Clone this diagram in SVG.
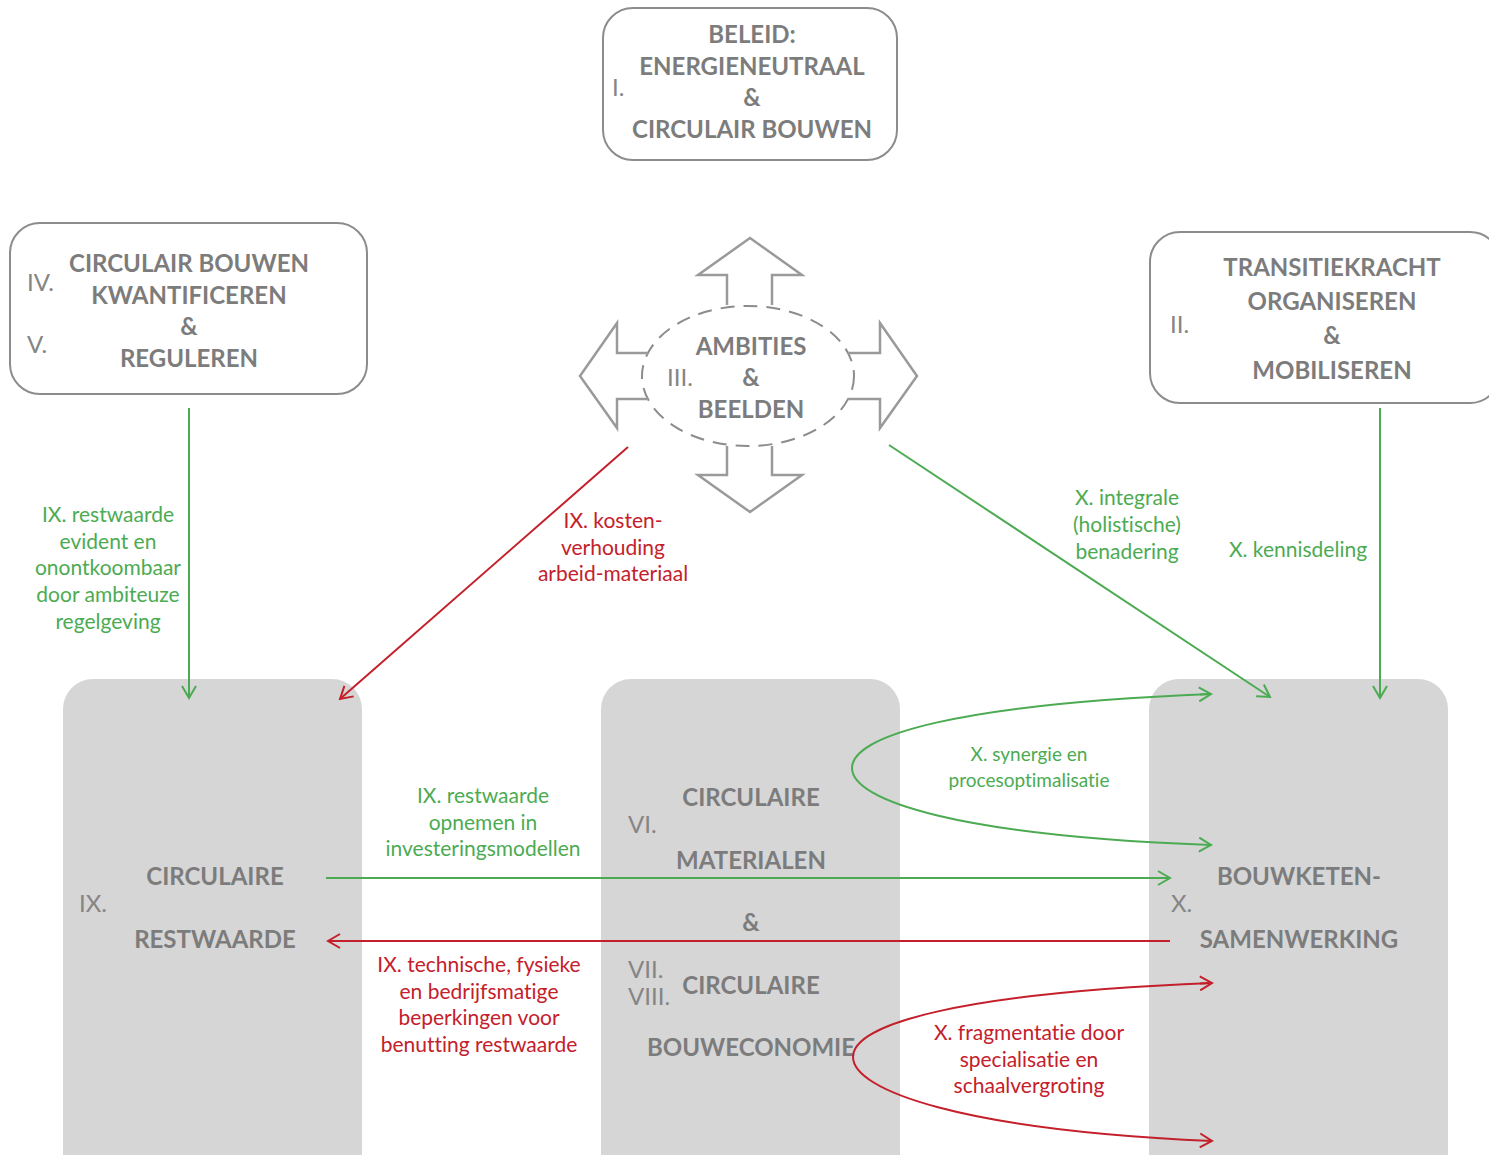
<svg xmlns="http://www.w3.org/2000/svg" width="1489" height="1155" viewBox="0 0 1489 1155">
<defs>
<style>
text{font-variant-ligatures:none}
.box{fill:#fff;stroke:#8c8c8c;stroke-width:2}
.gbox{fill:#d6d6d6;stroke:none}
.arr{fill:none;stroke:#9a9a9a;stroke-width:2.5;stroke-linejoin:miter}
.ell{fill:none;stroke:#8c8c8c;stroke-width:2;stroke-dasharray:14 9}
.h{font-family:Lato,"Open Sans",sans-serif;font-weight:700;font-size:24px;fill:#7c7c7c;text-anchor:middle}
.n{font-family:Lato,"Open Sans",sans-serif;font-weight:400;font-size:24px;fill:#858585}
.g{font-family:Lato,"Open Sans",sans-serif;font-size:21px;fill:#4cab52;text-anchor:middle}
.r{font-family:Lato,"Open Sans",sans-serif;font-size:21px;fill:#c4202b;text-anchor:middle}
.lg{fill:none;stroke:#4cab52;stroke-width:2}
.lr{fill:none;stroke:#c4202b;stroke-width:2}
</style>
<marker id="ag" markerUnits="userSpaceOnUse" markerWidth="16" markerHeight="16" viewBox="0 0 16 16" refX="14" refY="8" orient="auto">
<path d="M2,1 L14,8 L2,15" fill="none" stroke="#4cab52" stroke-width="2"/>
</marker>
<marker id="ar" markerUnits="userSpaceOnUse" markerWidth="16" markerHeight="16" viewBox="0 0 16 16" refX="14" refY="8" orient="auto">
<path d="M2,1 L14,8 L2,15" fill="none" stroke="#c4202b" stroke-width="2"/>
</marker>
</defs>
<rect width="1489" height="1155" fill="#fff"/>

<g id="node-beleid">
<rect class="box" x="603" y="8" width="294" height="152" rx="30"/>
<text class="n" x="612" y="96">I.</text>
<text class="h" x="752" y="43">BELEID:</text>
<text class="h" x="752" y="75">ENERGIENEUTRAAL</text>
<text class="h" x="752" y="106">&amp;</text>
<text class="h" x="752" y="138">CIRCULAIR BOUWEN</text>
</g>

<g id="node-kwantificeren">
<rect class="box" x="10" y="223" width="357" height="171" rx="30"/>
<text class="n" x="27" y="291">IV.</text>
<text class="n" x="27" y="353">V.</text>
<text class="h" x="189" y="272">CIRCULAIR BOUWEN</text>
<text class="h" x="189" y="304">KWANTIFICEREN</text>
<text class="h" x="189" y="335">&amp;</text>
<text class="h" x="189" y="367">REGULEREN</text>
</g>

<g id="node-transitiekracht">
<rect class="box" x="1150" y="232" width="350" height="171" rx="30"/>
<text class="n" x="1170" y="333">II.</text>
<text class="h" x="1332" y="276">TRANSITIEKRACHT</text>
<text class="h" x="1332" y="310">ORGANISEREN</text>
<text class="h" x="1332" y="344">&amp;</text>
<text class="h" x="1332" y="379">MOBILISEREN</text>
</g>

<g id="node-ambities">
<ellipse class="ell" cx="748" cy="376" rx="106" ry="70"/>
<path class="arr" d="M727,305 L727,275 L698,275 L750,238 L802,275 L772,275 L772,305"/>
<path class="arr" d="M727,446 L727,475 L698,475 L750,512 L802,475 L772,475 L772,446"/>
<path class="arr" d="M648,353 L617,353 L617,323 L580,376 L617,428 L617,399 L648,399"/>
<path class="arr" d="M848,353 L880,353 L880,323 L917,376 L880,428 L880,399 L848,399"/>
<text class="n" x="667" y="386">III.</text>
<text class="h" x="751" y="355">AMBITIES</text>
<text class="h" x="751" y="386">&amp;</text>
<text class="h" x="751" y="418">BEELDEN</text>
</g>

<g id="node-restwaarde">
<rect class="gbox" x="63" y="679" width="299" height="520" rx="30"/>
<text class="n" x="79" y="912">IX.</text>
<text class="h" x="215" y="885">CIRCULAIRE</text>
<text class="h" x="215" y="948">RESTWAARDE</text>
</g>

<g id="node-materialen">
<rect class="gbox" x="601" y="679" width="299" height="520" rx="30"/>
<text class="n" x="628" y="833">VI.</text>
<text class="n" x="628" y="978">VII.</text>
<text class="n" x="628" y="1005">VIII.</text>
<text class="h" x="751" y="806">CIRCULAIRE</text>
<text class="h" x="751" y="869">MATERIALEN</text>
<text class="h" x="751" y="931">&amp;</text>
<text class="h" x="751" y="994">CIRCULAIRE</text>
<text class="h" x="751" y="1056">BOUWECONOMIE</text>
</g>

<g id="node-samenwerking">
<rect class="gbox" x="1149" y="679" width="299" height="520" rx="30"/>
<text class="n" x="1171" y="912">X.</text>
<text class="h" x="1299" y="885">BOUWKETEN-</text>
<text class="h" x="1299" y="948">SAMENWERKING</text>
</g>

<g id="connectors">
<line class="lg" x1="189" y1="408" x2="189" y2="698" marker-end="url(#ag)"/>
<line class="lr" x1="628" y1="447" x2="340" y2="699" marker-end="url(#ar)"/>
<line class="lg" x1="889" y1="445" x2="1270" y2="697" marker-end="url(#ag)"/>
<line class="lg" x1="1380" y1="408" x2="1380" y2="698" marker-end="url(#ag)"/>
<line class="lg" x1="326" y1="878" x2="1170" y2="878" marker-end="url(#ag)"/>
<line class="lr" x1="1170" y1="941" x2="328" y2="941" marker-end="url(#ar)"/>
<path class="lg" d="M1211,694 C960,704 852,735 852,768 C852,801 960,836 1211,845" marker-end="url(#ag)"/>
<path class="lr" d="M1212,983 C960,993 853,1024 853,1057 C853,1090 960,1130 1212,1141" marker-end="url(#ar)"/>
<path class="lg" d="M1200,694.4 L1211,694" marker-end="url(#ag)"/>
<path class="lr" d="M1200,983.4 L1212,983" marker-end="url(#ar)"/>

<text class="g" x="108" y="522">IX. restwaarde</text>
<text class="g" x="108" y="549">evident en</text>
<text class="g" x="108" y="575">onontkoombaar</text>
<text class="g" x="108" y="602">door ambiteuze</text>
<text class="g" x="108" y="629">regelgeving</text>

<text class="r" x="613" y="528">IX. kosten-</text>
<text class="r" x="613" y="555">verhouding</text>
<text class="r" x="613" y="581">arbeid-materiaal</text>

<text class="g" x="1127" y="505">X. integrale</text>
<text class="g" x="1127" y="532">(holistische)</text>
<text class="g" x="1127" y="559">benadering</text>

<text class="g" x="1298" y="557">X. kennisdeling</text>

<text class="g" x="483" y="803">IX. restwaarde</text>
<text class="g" x="483" y="830">opnemen in</text>
<text class="g" x="483" y="856">investeringsmodellen</text>

<text class="r" x="479" y="972">IX. technische, fysieke</text>
<text class="r" x="479" y="999">en bedrijfsmatige</text>
<text class="r" x="479" y="1025">beperkingen voor</text>
<text class="r" x="479" y="1052">benutting restwaarde</text>

<text class="g" x="1029" y="761" style="font-size:19px">X. synergie en</text>
<text class="g" x="1029" y="787" style="font-size:19px">procesoptimalisatie</text>

<text class="r" x="1029" y="1040">X. fragmentatie door</text>
<text class="r" x="1029" y="1067">specialisatie en</text>
<text class="r" x="1029" y="1093">schaalvergroting</text>
</g>
</svg>
